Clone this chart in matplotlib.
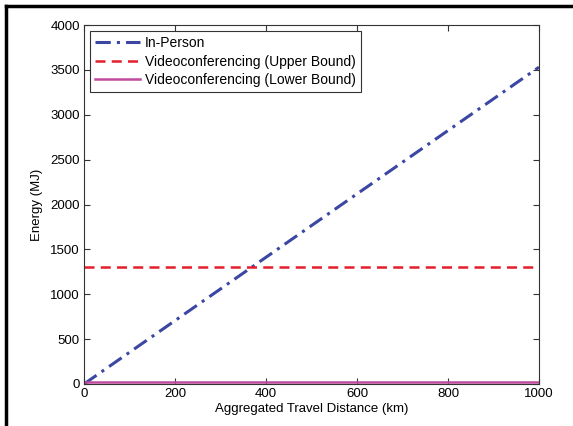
import matplotlib.pyplot as plt
from matplotlib.lines import Line2D

distance = [0, 1000]
in_person = [0, 3530]
video_upper = [1300, 1300]
video_lower = [20, 20]

plt.rcParams['font.family'] = ['Liberation Sans', 'DejaVu Sans']
plt.rcParams['font.size'] = 9.5

fig = plt.figure(figsize=(5.73, 4.26), dpi=100)
ax = fig.add_axes([0.1466, 0.0986, 0.794, 0.8427])

ax.plot(distance, in_person, color='#3b47a3', lw=2.2, ls=(0, (5, 2, 1, 2)), label='In-Person')
ax.plot(distance, video_upper, color='#e41e2b', lw=1.8, ls=(0, (4, 2.5)), label='Videoconferencing (Upper Bound)')
ax.plot(distance, video_lower, color='#c04a9e', lw=1.8, label='Videoconferencing (Lower Bound)')

ax.set_xlim(0, 1000)
ax.set_ylim(0, 4000)
ax.set_xticks(range(0, 1001, 200))
ax.set_yticks(range(0, 4001, 500))
ax.tick_params(direction='in', length=4, width=0.8, color='#333333', top=True, right=True, labelsize=9.5, pad=3)
for s in ax.spines.values():
    s.set_color('#333333')
    s.set_linewidth(0.8)

ax.set_xlabel('Aggregated Travel Distance (km)', fontsize=9.5, labelpad=2)
ax.set_ylabel('Energy (MJ)', fontsize=9.5, labelpad=5)

leg = ax.legend(loc='upper left', fontsize=10, fancybox=False, framealpha=1,
                edgecolor='#333333', handlelength=3.2, borderpad=0.35,
                labelspacing=0.33, handletextpad=0.4, borderaxespad=0.45)
leg.get_frame().set_linewidth(0.8)

# black frame on top and left of the picture
fig.add_artist(Line2D([0.011, 0.011], [0, 0.985], transform=fig.transFigure, color='black', lw=2.5))
fig.add_artist(Line2D([0.011, 1], [0.985, 0.985], transform=fig.transFigure, color='black', lw=2.5))

fig.savefig('out.png', dpi=100)
